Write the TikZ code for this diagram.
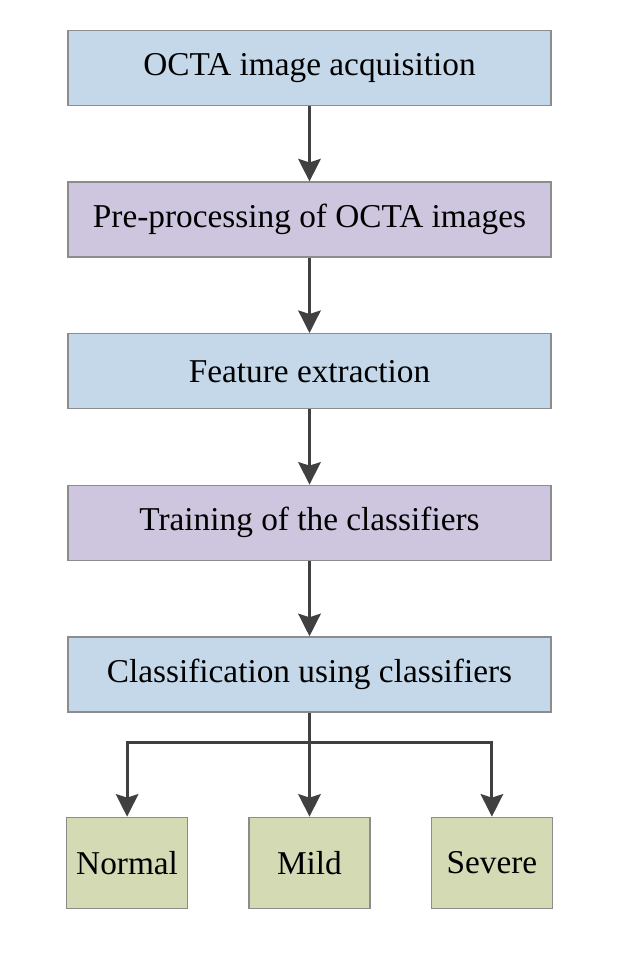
\documentclass[tikz,border=0pt]{standalone}
\usepackage{fontspec}
\setmainfont{Liberation Serif}
\usetikzlibrary{arrows.meta,positioning}

\definecolor{boxblue}{RGB}{197,216,233}
\definecolor{boxlila}{RGB}{206,198,222}
\definecolor{boxgruen}{RGB}{211,218,180}
\definecolor{rand}{RGB}{140,140,140}
\definecolor{pfeil}{RGB}{64,64,64}

\begin{document}
\begin{tikzpicture}[
	node distance=1.88cm,
	font=\fontsize{23.7}{28}\selectfont,
	pile/.style={
		line width=2.1pt,
		draw=pfeil,
		-{Triangle[width=16pt,length=16pt,inset=2.5pt]}
	},
	schritt/.style={
		draw=rand,
		line width=1pt,
		minimum width=12.075cm,
		minimum height=1.875cm,
		inner sep=0pt
	},
	klasse/.style={
		draw=rand,
		line width=1pt,
		fill=boxgruen,
		minimum width=3.025cm,
		minimum height=2.275cm,
		inner sep=0pt
	}
]
\useasboundingbox (0,0) rectangle (15.5,-23.925);

\node[schritt, fill=boxblue] (ACQ) at (7.7375,-1.7) {OCTA image acquisition};
\node[schritt, fill=boxlila] (PRE) [below=of ACQ] {Pre-processing of OCTA images};
\node[schritt, fill=boxblue] (FEAT) [below=of PRE] {Feature extraction};
\node[schritt, fill=boxlila] (TRAIN) [below=of FEAT] {Training of the classifiers};
\node[schritt, fill=boxblue] (CLASS) [below=of TRAIN] {Classification using classifiers};

\node[klasse] (MILD) [below=2.6cm of CLASS] {Mild};
\node[klasse] (NORM) [left=1.5cm of MILD] {Normal};
\node[klasse] (SEV) [right=1.5cm of MILD] {Severe};

\coordinate[below=0.75cm of CLASS.south] (ast);

\draw[pile] (ACQ) -- (PRE);
\draw[pile] (PRE) -- (FEAT);
\draw[pile] (FEAT) -- (TRAIN);
\draw[pile] (TRAIN) -- (CLASS);
\draw[pile] (CLASS) -- (MILD);
\draw[pile] (ast) -| (NORM);
\draw[pile] (ast) -| (SEV);

\end{tikzpicture}
\end{document}
